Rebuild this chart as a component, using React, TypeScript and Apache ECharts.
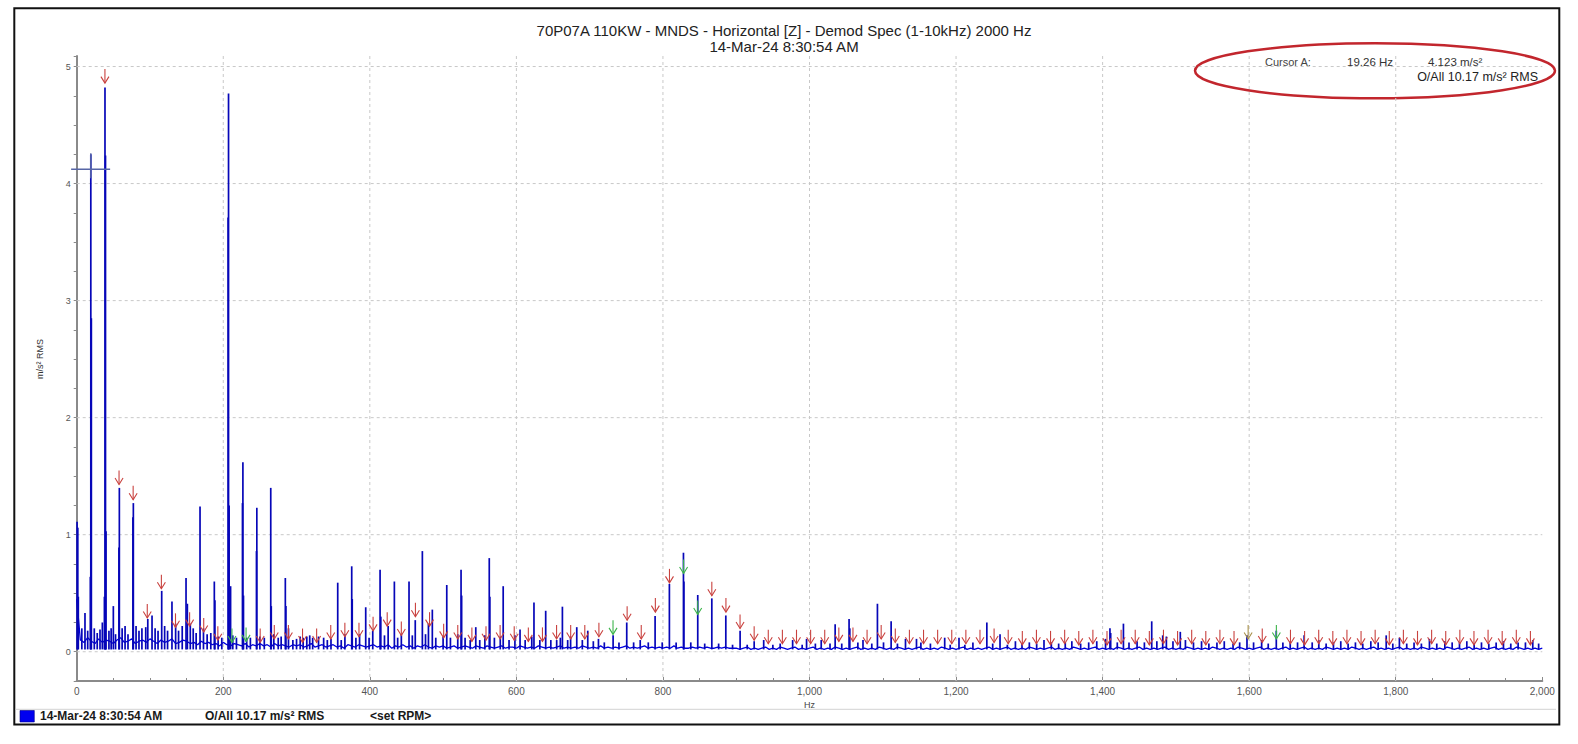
import React, { useEffect, useRef } from "react";
import * as echarts from "echarts";

const FONT = '"Liberation Sans", Arial, sans-serif';

// ---------- texts ----------
const titleLine1 = "70P07A 110KW - MNDS - Horizontal [Z] - Demod Spec (1-10kHz) 2000 Hz";
const titleLine2 = "14-Mar-24 8:30:54 AM";
const cursorLabel = "Cursor A:";
const cursorFreqText = "19.26 Hz";
const cursorAmpText = "4.123 m/s²";
const overallText = "O/All 10.17 m/s² RMS";
const legendDate = "14-Mar-24 8:30:54 AM";
const legendOverall = "O/All 10.17 m/s² RMS";
const legendRpm = "<set RPM>";
const yAxisName = "m/s² RMS";
const xAxisName = "Hz";

// ---------- axes ----------
const xTicksHz = [200, 400, 600, 800, 1000, 1200, 1400, 1600, 1800];
const yTicks = [0, 1, 2, 3, 4, 5];

// ---------- cursor ----------
const cursorHz = 19.26;
const cursorAmp = 4.123;

// ---------- spectrum noise floor (one value every 5 Hz from 0 Hz) ----------
const floorStepHz = 5;
const floorAmp = [
  0.45,
  0.10,0.08,0.12,0.09,0.07,0.11,0.08,0.10,0.09,0.07,
  0.10,0.12,0.08,0.09,0.11,0.07,0.09,0.10,0.08,0.11,
  0.09,0.07,0.10,0.08,0.09,0.11,0.07,0.08,0.10,0.09,
  0.07,0.08,0.06,0.09,0.07,0.08,0.06,0.07,0.05,0.08,
  0.06,0.05,0.07,0.06,0.05,0.07,0.04,0.06,0.05,0.07,
  0.05,0.06,0.04,0.07,0.05,0.06,0.05,0.04,0.06,
  0.05,0.06,0.04,0.05,0.07,0.04,0.05,0.06,0.04,0.05,
  0.06,0.04,0.05,0.03,0.06,0.05,0.04,0.06,0.05,0.04,
  0.05,0.06,0.04,0.05,0.04,0.06,0.03,0.05,0.04,0.06,
  0.04,0.05,0.03,0.05,0.04,0.06,0.04,0.03,0.05,0.04,
  0.05,0.03,0.04,0.05,0.03,0.04,0.05,0.04,0.03,0.05,
  0.04,0.03,0.05,0.04,0.03,0.04,0.05,0.03,0.04,0.04,
  0.03,0.05,0.04,0.03,0.04,0.03,0.05,0.04,0.03,0.04,
  0.03,0.04,0.05,0.03,0.04,0.03,0.04,0.03,0.05,0.04,
  0.03,0.04,0.03,0.05,0.03,0.04,0.03,0.04,0.03,0.04,
  0.05,0.03,0.04,0.03,0.04,0.05,0.03,0.04,0.03,0.04,
  0.03,0.04,0.03,0.05,0.03,0.04,0.03,0.03,0.04,0.03,
  0.04,0.03,0.04,0.03,0.03,0.04,0.03,0.04,0.03,0.03,
  0.03,0.02,0.03,0.04,0.02,0.03,0.02,0.03,0.04,0.02,
  0.03,0.02,0.04,0.03,0.02,0.03,0.04,0.02,0.03,0.02,
  0.03,0.04,0.02,0.03,0.02,0.03,0.02,0.04,0.03,0.02,
  0.03,0.02,0.03,0.04,0.02,0.03,0.02,0.03,0.02,0.04,
  0.03,0.02,0.03,0.02,0.04,0.03,0.02,0.03,0.02,0.03,
  0.04,0.02,0.03,0.02,0.03,0.02,0.04,0.03,0.02,0.03,
  0.02,0.03,0.04,0.02,0.03,0.02,0.03,0.02,0.03,0.04,
  0.02,0.03,0.02,0.03,0.04,0.02,0.03,0.02,0.03,0.02,
  0.04,0.03,0.02,0.03,0.02,0.03,0.04,0.02,0.03,0.02,
  0.03,0.02,0.04,0.03,0.02,0.03,0.02,0.03,0.04,0.02,
  0.03,0.02,0.03,0.02,0.04,0.03,0.02,0.03,0.02,0.03,
  0.04,0.02,0.03,0.02,0.03,0.02,0.03,0.04,0.02,0.03,
  0.02,0.03,0.02,0.04,0.03,0.02,0.03,0.02,0.03,0.02,
  0.04,0.03,0.02,0.03,0.02,0.03,0.02,0.04,0.03,0.02,
  0.03,0.02,0.03,0.04,0.02,0.03,0.02,0.03,0.02,0.03,
  0.04,0.02,0.03,0.02,0.03,0.04,0.02,0.03,0.02,0.03,
  0.02,0.04,0.03,0.02,0.03,0.02,0.03,0.02,0.04,0.03,
  0.02,0.03,0.02,0.03,0.04,0.02,0.03,0.02,0.03,0.02,
  0.03,0.04,0.02,0.03,0.02,0.03,0.02,0.04,0.03,0.02,
  0.03,0.02,0.03,0.02,0.04,0.03,0.02,0.03,0.02,0.03,
  0.04,0.02,0.03,0.02,0.03,0.02,0.03,0.04,0.02,0.03,
  0.02,0.03,0.02,0.04,0.03,0.02,0.03,0.02,0.03,0.02,
  0.03,
];

// ---------- spectral lines [Hz, m/s²] ----------
const peakBase = 0.02;
const peaks: [number, number][] = [
  [0.5, 1.11], [1.5, 1.06], [2.2, 0.47], [7, 0.2], [11.3, 0.33], [15, 0.18],
  [18.6, 0.64], [19.26, 4.25], [20, 2.85], [24, 0.2], [28, 0.16], [31.8, 0.19], [35, 0.25],
  [37.8, 0.47], [38.6, 4.82], [39.3, 4.24], [40, 1.03], [44, 0.18], [47, 0.2], [50, 0.39], [53, 0.15],
  [57.6, 0.89], [58.2, 1.4], [62, 0.2], [66, 0.22], [70, 0.15],
  [76.7, 1.15], [77.3, 1.27], [81, 0.22], [85, 0.18], [89, 0.2],
  [94.2, 0.21], [97, 0.28], [102.8, 0.31], [107, 0.2], [111, 0.18],
  [116, 0.52], [120, 0.22], [124, 0.18], [130, 0.43], [135, 0.24], [139, 0.18], [144, 0.22],
  [149.2, 0.63], [151, 0.41], [155, 0.24], [159, 0.2], [163, 0.16],
  [168.3, 1.24], [173, 0.2], [178, 0.15], [183, 0.16],
  [187.8, 0.6], [188.6, 0.44], [193, 0.13], [198, 0.12],
  [206.6, 3.71], [207.2, 4.77], [208, 1.25], [210, 0.56], [213, 0.14], [218, 0.12],
  [226.2, 1.27], [226.8, 1.62], [227.6, 0.48], [232, 0.12], [237, 0.12],
  [245.3, 0.86], [245.8, 1.23], [250, 0.13], [256, 0.12],
  [264.8, 1.4], [265.5, 0.39], [269, 0.15], [275, 0.12], [279, 0.13],
  [284.7, 0.63], [285.5, 0.39], [289, 0.2], [295, 0.1], [300, 0.11], [305, 0.13], [309, 0.12],
  [314, 0.13], [318, 0.14], [322, 0.12], [330, 0.13], [337, 0.12], [342, 0.1], [347, 0.11],
  [356.2, 0.59], [361, 0.1], [366, 0.15], [375.3, 0.73], [376, 0.45], [381, 0.12], [386, 0.15],
  [394.4, 0.38], [399, 0.12], [404, 0.18], [414, 0.7], [415, 0.3], [420, 0.14], [425, 0.22],
  [433.5, 0.6], [438, 0.12], [443, 0.15], [453.5, 0.6], [458, 0.14], [462, 0.27],
  [471.7, 0.86], [476, 0.15], [480, 0.24], [485.3, 0.36], [490, 0.12], [500, 0.13],
  [505, 0.57], [510, 0.12], [520, 0.15], [524.5, 0.7], [525.3, 0.48], [530, 0.12], [537, 0.1],
  [544.6, 0.21], [550, 0.1], [557, 0.14], [563, 0.8], [563.8, 0.47], [570, 0.12], [578, 0.13],
  [582, 0.56], [590, 0.1], [598, 0.14], [605, 0.19], [612, 0.1], [621, 0.13],
  [624, 0.42], [632, 0.1], [640, 0.35], [647, 0.1], [655, 0.1], [660, 0.12],
  [662.8, 0.385], [670, 0.1], [674, 0.13], [682.4, 0.21], [690, 0.1], [697.4, 0.18],
  [705, 0.09], [712, 0.11], [720, 0.08],
  [732, 0.14], [740, 0.08], [750.6, 0.25], [760, 0.08], [769, 0.1], [780, 0.08],
  [789.3, 0.305], [799, 0.08], [808.8, 0.58], [818, 0.08],
  [828, 0.846], [828.6, 0.6], [838, 0.08], [847.5, 0.485], [857, 0.07],
  [866.7, 0.456], [876, 0.07], [885.8, 0.31], [895, 0.06], [905.3, 0.18], [915, 0.06],
  [924.5, 0.09], [937.5, 0.1], [950, 0.06], [960, 0.07], [977, 0.1], [990, 0.06], [996, 0.11],
  [1008, 0.07], [1016, 0.1], [1028, 0.07],
  [1035, 0.235], [1044, 0.07], [1054, 0.28], [1055, 0.2], [1066, 0.08], [1073, 0.1], [1085, 0.07],
  [1092.7, 0.41], [1101, 0.08], [1111.4, 0.26], [1120, 0.07], [1131, 0.11], [1146, 0.11],
  [1152, 0.08], [1165, 0.07], [1184.5, 0.12], [1192, 0.06], [1204, 0.12], [1212, 0.06], [1223, 0.08],
  [1242, 0.25], [1250, 0.07], [1260, 0.15], [1270, 0.06], [1281, 0.09], [1290, 0.07], [1300, 0.08],
  [1310, 0.07], [1320, 0.1], [1330, 0.08], [1340, 0.07], [1349, 0.08], [1358, 0.09], [1370, 0.07],
  [1381, 0.08], [1392, 0.09],
  [1404, 0.11], [1410, 0.2], [1411, 0.16], [1420, 0.08], [1428.4, 0.24], [1436, 0.08], [1447, 0.09],
  [1457, 0.08], [1467, 0.26], [1474, 0.09], [1482, 0.14], [1487, 0.13], [1496, 0.09], [1506, 0.17],
  [1513, 0.1], [1524, 0.08], [1535, 0.09], [1545, 0.07], [1556, 0.08], [1566, 0.09], [1578, 0.07],
  [1587, 0.08], [1597, 0.14], [1606, 0.08], [1617, 0.1], [1626, 0.07], [1637, 0.18], [1646, 0.08],
  [1656, 0.09], [1666, 0.08], [1675, 0.14], [1686, 0.08], [1695, 0.1], [1705, 0.07], [1715, 0.08],
  [1725, 0.09], [1735, 0.07], [1745, 0.08], [1755, 0.07], [1766, 0.09], [1776, 0.08],
  [1787, 0.14], [1796, 0.07], [1805, 0.12], [1815, 0.07], [1825, 0.08], [1835, 0.07], [1846, 0.11],
  [1856, 0.07], [1867, 0.09], [1877, 0.08], [1887, 0.08], [1897, 0.09], [1907, 0.07], [1917, 0.08],
  [1927, 0.07], [1937, 0.08], [1947, 0.09], [1957, 0.07], [1967, 0.08], [1977, 0.08], [1987, 0.1],
  [1995, 0.07],
];

// ---------- harmonic cursor markers (orders 2..103 of cursor frequency) ----------
const firstHarmonicOrder = 2;
const harmonicTipAmp = [
  4.85, 1.42, 1.29, 0.28, 0.53, 0.2, 0.21, 0.16, 0.09, 0.07,
  0.08, 0.07, 0.1, 0.1, 0.07, 0.07, 0.1, 0.12, 0.12, 0.17,
  0.21, 0.13, 0.29, 0.21, 0.11, 0.1, 0.08, 0.09, 0.1, 0.09,
  0.08, 0.08, 0.1, 0.1, 0.1, 0.12, 0.14, 0.26, 0.1, 0.33,
  0.58, 0.66, 0.31, 0.47, 0.33, 0.19, 0.09, 0.06, 0.06, 0.06,
  0.06, 0.06, 0.08, 0.08, 0.06, 0.1, 0.07, 0.06, 0.06, 0.06,
  0.06, 0.06, 0.06, 0.07, 0.06, 0.05, 0.06, 0.05, 0.06, 0.05,
  0.06, 0.05, 0.06, 0.06, 0.05, 0.06, 0.05, 0.06, 0.05, 0.06,
  0.05, 0.1, 0.07, 0.1, 0.06, 0.05, 0.06, 0.05, 0.06, 0.05,
  0.06, 0.05, 0.06, 0.05, 0.06, 0.05, 0.06, 0.05, 0.06, 0.05,
  0.06, 0.05,
];
const greenOrders = [11, 12, 38, 43, 44, 85];
const oliveOrders = [83];

const markerColors = ["#c9423f", "#3cb44a", "#a8904a"];

export default function App() {
  const ref = useRef<HTMLDivElement>(null);

  useEffect(() => {
    if (!ref.current) return;
    const chart = echarts.init(ref.current, undefined, { renderer: "svg" });

    const floorData = floorAmp.map((v, i) => [i * floorStepHz, v]);
    const markerData = harmonicTipAmp.map((t, i) => {
      const n = i + firstHarmonicOrder;
      const c = greenOrders.includes(n) ? 1 : oliveOrders.includes(n) ? 2 : 0;
      return [n * cursorHz, t, c];
    });

    const option: any = {
      animation: false,
      backgroundColor: "#ffffff",
      grid: { left: 76.7, right: 35.7, top: 56, bottom: 63, containLabel: false },
      xAxis: {
        type: "value",
        min: 0,
        max: 2000,
        interval: 200,
        name: xAxisName,
        nameLocation: "middle",
        nameGap: 15,
        nameTextStyle: { fontSize: 9, color: "#444", fontFamily: FONT },
        axisLine: { show: true, onZero: false, lineStyle: { color: "#8a8a8a", width: 2 } },
        axisTick: { show: true, inside: true, length: 4, lineStyle: { color: "#8a8a8a" } },
        minorTick: { show: true, splitNumber: 4, length: 3, lineStyle: { color: "#8a8a8a" } },
        axisLabel: {
          fontSize: 10,
          color: "#555",
          fontFamily: FONT,
          margin: 5,
          formatter: (v: number) => v.toLocaleString("en-US"),
        },
        splitLine: { show: false },
      },
      yAxis: {
        type: "value",
        min: -0.25,
        max: 5.09,
        interval: 0.25,
        axisLine: { show: true, onZero: false, lineStyle: { color: "#8a8a8a", width: 2 } },
        axisTick: { show: true, length: 3, lineStyle: { color: "#8a8a8a" } },
        axisLabel: {
          fontSize: 9,
          color: "#555",
          fontFamily: FONT,
          margin: 6,
          formatter: (v: number) =>
            Math.abs(v - Math.round(v)) < 1e-6 && v >= 0 && v <= 5 ? String(Math.round(v)) : "",
        },
        splitLine: { show: false },
      },
      series: [
        {
          type: "custom",
          name: "gridX",
          z: 1,
          silent: true,
          data: xTicksHz.map((h) => [h, 0]),
          renderItem: (params: any, api: any) => {
            const x = api.coord([api.value(0), 0])[0];
            const cs = params.coordSys;
            return {
              type: "line",
              shape: { x1: x, y1: cs.y, x2: x, y2: cs.y + cs.height },
              style: { stroke: "#c8c8c8", lineWidth: 1, lineDash: [3, 3] },
            };
          },
        },
        {
          type: "custom",
          name: "gridY",
          z: 1,
          silent: true,
          data: yTicks.map((v) => [0, v]),
          renderItem: (params: any, api: any) => {
            const y = api.coord([0, api.value(1)])[1];
            const cs = params.coordSys;
            return {
              type: "line",
              shape: { x1: cs.x, y1: y, x2: cs.x + cs.width, y2: y },
              style: { stroke: "#c8c8c8", lineWidth: 1, lineDash: [3, 3] },
            };
          },
        },
        {
          type: "line",
          name: "floor",
          z: 2,
          silent: true,
          data: floorData,
          showSymbol: false,
          symbol: "none",
          lineStyle: { color: "#0000e0", width: 1.3 },
        },
        {
          type: "custom",
          name: "lines",
          z: 3,
          silent: true,
          data: peaks,
          renderItem: (params: any, api: any) => {
            const top = api.coord([api.value(0), api.value(1)]);
            const bot = api.coord([api.value(0), peakBase]);
            return {
              type: "line",
              shape: { x1: top[0], y1: bot[1], x2: top[0], y2: top[1] },
              style: { stroke: "#0606b8", lineWidth: 1.7 },
            };
          },
        },
        {
          type: "custom",
          name: "harmonics",
          z: 4,
          silent: true,
          data: markerData,
          renderItem: (params: any, api: any) => {
            const p = api.coord([api.value(0), api.value(1)]);
            const x = p[0];
            const y = p[1] - 1;
            const color = markerColors[api.value(2)];
            return {
              type: "group",
              children: [
                {
                  type: "line",
                  shape: { x1: x, y1: y - 14, x2: x, y2: y },
                  style: { stroke: color, lineWidth: 1.1 },
                },
                {
                  type: "polyline",
                  shape: { points: [[x - 4, y - 6.5], [x, y], [x + 4, y - 6.5]] },
                  style: { stroke: color, lineWidth: 1.1, fill: "none" },
                },
              ],
            };
          },
        },
        {
          type: "custom",
          name: "cursor",
          z: 5,
          silent: true,
          data: [[cursorHz, cursorAmp]],
          renderItem: (params: any, api: any) => {
            const p = api.coord([api.value(0), api.value(1)]);
            return {
              type: "group",
              children: [
                {
                  type: "line",
                  shape: { x1: p[0] - 19.7, y1: p[1], x2: p[0] + 19.3, y2: p[1] },
                  style: { stroke: "#5766a6", lineWidth: 1.4 },
                },
                {
                  type: "line",
                  shape: { x1: p[0], y1: p[1] - 16, x2: p[0], y2: p[1] + 9 },
                  style: { stroke: "#5766a6", lineWidth: 1.4 },
                },
              ],
            };
          },
        },
      ],
      graphic: [
        {
          type: "rect",
          shape: { x: 14.3, y: 8.3, width: 1545, height: 716.2 },
          style: { fill: "none", stroke: "#111", lineWidth: 2 },
          silent: true,
        },
        {
          type: "line",
          shape: { x1: 15.5, y1: 709.3, x2: 1556, y2: 709.3 },
          style: { stroke: "#d2d2d2", lineWidth: 1 },
          silent: true,
        },
        {
          type: "rect",
          shape: { x: 20, y: 710.5, width: 14.3, height: 11.5 },
          style: { fill: "#0000f0", stroke: "#00008a", lineWidth: 0.6 },
          silent: true,
        },
        {
          type: "text",
          x: 40,
          y: 716.2,
          style: { text: legendDate, fontSize: 12, fontWeight: "bold", fontFamily: FONT, fill: "#1a1a1a", verticalAlign: "middle" },
          silent: true,
        },
        {
          type: "text",
          x: 205,
          y: 716.2,
          style: { text: legendOverall, fontSize: 12, fontWeight: "bold", fontFamily: FONT, fill: "#1a1a1a", verticalAlign: "middle" },
          silent: true,
        },
        {
          type: "text",
          x: 370,
          y: 716.2,
          style: { text: legendRpm, fontSize: 12, fontWeight: "bold", fontFamily: FONT, fill: "#1a1a1a", verticalAlign: "middle" },
          silent: true,
        },
        {
          type: "text",
          x: 784,
          y: 30.5,
          style: { text: titleLine1, fontSize: 15, fontFamily: FONT, fill: "#222", align: "center", verticalAlign: "middle" },
          silent: true,
        },
        {
          type: "text",
          x: 784,
          y: 46,
          style: { text: titleLine2, fontSize: 15, fontFamily: FONT, fill: "#222", align: "center", verticalAlign: "middle" },
          silent: true,
        },
        {
          type: "text",
          x: 40,
          y: 359,
          rotation: Math.PI / 2,
          style: { text: yAxisName, fontSize: 9, fontFamily: FONT, fill: "#333", align: "center", verticalAlign: "middle" },
          silent: true,
        },
        {
          type: "ellipse",
          shape: { cx: 1375, cy: 70.8, rx: 180, ry: 27.5 },
          style: { fill: "none", stroke: "#c2262d", lineWidth: 2.5 },
          silent: true,
        },
        {
          type: "text",
          x: 1265,
          y: 62,
          style: { text: cursorLabel, fontSize: 11, fontFamily: FONT, fill: "#444", verticalAlign: "middle" },
          silent: true,
        },
        {
          type: "text",
          x: 1347,
          y: 62,
          style: { text: cursorFreqText, fontSize: 11.5, fontFamily: FONT, fill: "#333", verticalAlign: "middle" },
          silent: true,
        },
        {
          type: "text",
          x: 1428,
          y: 62,
          style: { text: cursorAmpText, fontSize: 11.5, fontFamily: FONT, fill: "#333", verticalAlign: "middle" },
          silent: true,
        },
        {
          type: "text",
          x: 1538,
          y: 76.5,
          style: { text: overallText, fontSize: 12.5, fontFamily: FONT, fill: "#222", align: "right", verticalAlign: "middle" },
          silent: true,
        },
      ],
    };

    chart.setOption(option);
    return () => chart.dispose();
  }, []);

  return (
    <div
      ref={ref}
      style={{ position: "fixed", left: 0, top: 0, width: 1578, height: 744, background: "#fff" }}
    />
  );
}
